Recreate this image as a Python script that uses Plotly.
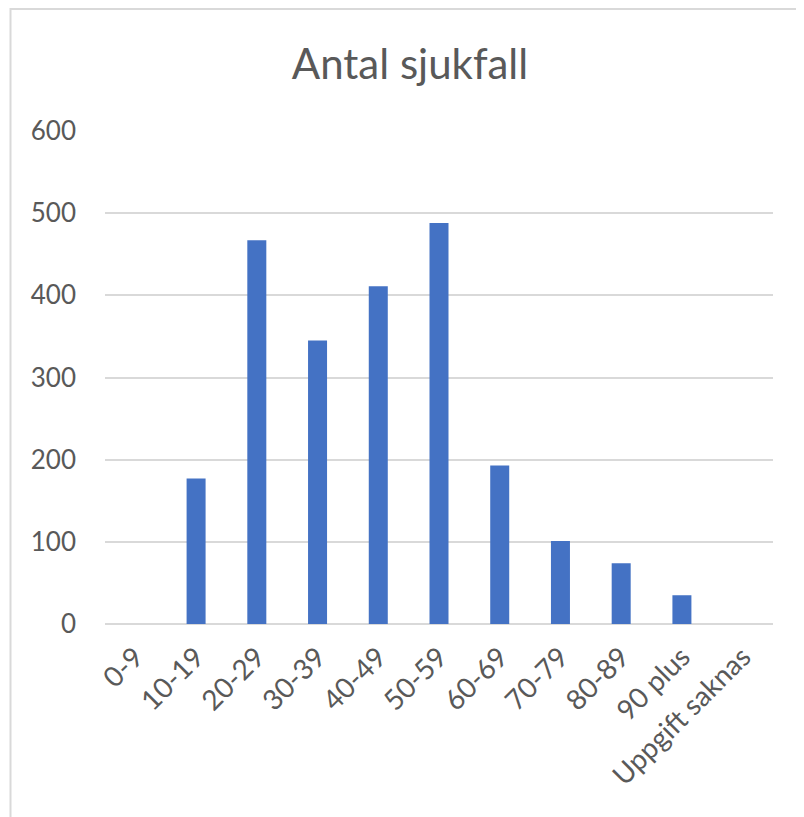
import plotly.graph_objects as go

categories = ["0-9", "10-19", "20-29", "30-39", "40-49", "50-59", "60-69",
              "70-79", "80-89", "90 plus", "Uppgift saknas"]
values = [0, 177, 467, 345, 411, 488, 193, 101, 74, 35, 0]
y_ticks = [0, 100, 200, 300, 400, 500, 600]
title_text = "Antal sjukfall"

# page body adds an 8px offset
W, H = 796, 809
L, R, T, B = 97, 31, 123, 193

fig = go.Figure(go.Bar(x=categories, y=values, marker=dict(color="#4472C4", line=dict(width=0))))

pw = W - L - R
ph = H - T - B
fig.add_shape(type="rect", xref="paper", yref="paper",
              x0=(2.5 - L) / pw, x1=(W + 30 - L) / pw,
              y0=-(B + 30) / ph, y1=(H - 1 - B) / ph,
              line=dict(color="#D9D9D9", width=2), fillcolor="rgba(0,0,0,0)", layer="below")

FONT = "Lato, 'Open Sans', sans-serif"
fig.update_layout(
    width=W, height=H,
    margin=dict(l=L, r=R, t=T, b=B, autoexpand=False),
    paper_bgcolor="white", plot_bgcolor="white",
    showlegend=False,
    bargap=0.687,
    font=dict(family=FONT, color="#595959", size=26),
    title=dict(text=title_text, x=(410 - 8) / W, xanchor="center", y=1 - 56 / H, yanchor="middle",
               font=dict(size=42, color="#595959", family=FONT)),
    xaxis=dict(type="category", showgrid=False, showline=False, ticks="", tickangle=-45,
               ticklabelstandoff=10,
               tickfont=dict(size=28, color="#595959"), zeroline=False),
    yaxis=dict(range=[0, 600], tickvals=y_ticks, showgrid=True, gridcolor="#D9D9D9", gridwidth=1.5,
               zeroline=True, zerolinecolor="#D9D9D9", zerolinewidth=1.5, showline=False,
               ticks="", ticklabelstandoff=28,
               tickfont=dict(size=26, color="#595959")),
)

fig.write_html("out.html")
